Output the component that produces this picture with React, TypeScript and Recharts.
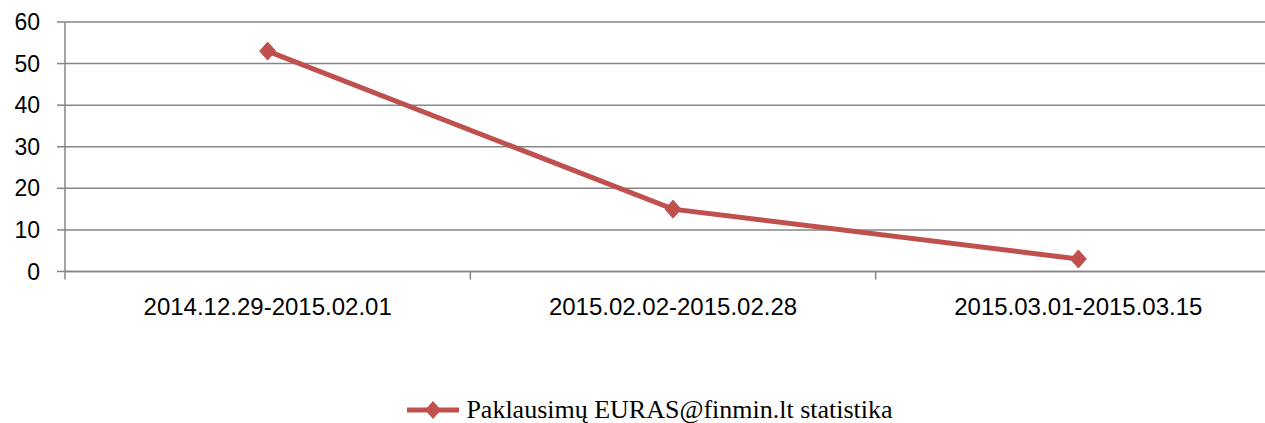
import React from "react";
import { LineChart, Line, XAxis, YAxis, CartesianGrid, Legend } from "recharts";

const periods = ["2014.12.29-2015.02.01", "2015.02.02-2015.02.28", "2015.03.01-2015.03.15"];
const queries = [53, 15, 3];
const yTicks = [0, 10, 20, 30, 40, 50, 60];
const seriesName = "Paklausimų EURAS@finmin.lt statistika";

const CHART_W = 1290;
const CHART_H = 423;
const MARGIN = { top: 22, right: 9, left: 0, bottom: 0 };
const Y_W = 65;
const RED = "#C0504D";
const GRID = "#868686";
const AXIS_FONT = "'Liberation Sans', Arial, sans-serif";

const data = periods.map((p, i) => ({ period: p, value: queries[i] }));
const bandW = (CHART_W - MARGIN.left - MARGIN.right - Y_W) / periods.length;

function CategoryTick(props: any) {
  const { x, y, payload, index } = props;
  const left = x - bandW / 2;
  return (
    <g>
      <line x1={left} x2={left} y1={y - 26} y2={y - 18} stroke={GRID} strokeWidth={1.5} />
      {index === periods.length - 1 && (
        <line x1={x + bandW / 2} x2={x + bandW / 2} y1={y - 26} y2={y - 18} stroke={GRID} strokeWidth={1.5} />
      )}
      <text x={x} y={y} dy="0.71em" textAnchor="middle" fill="#000" fontSize={24} fontFamily={AXIS_FONT}>
        {payload.value}
      </text>
    </g>
  );
}

function Diamond(props: any) {
  const { cx, cy } = props;
  if (cx == null || cy == null) return null;
  return <polygon points={`${cx},${cy - 9} ${cx + 8},${cy} ${cx},${cy + 9} ${cx - 8},${cy}`} fill={RED} stroke={RED} />;
}

function LegendBox() {
  return (
    <div style={{ display: "flex", justifyContent: "center", alignItems: "center", height: 26, paddingLeft: 19 }}>
      <svg width={52} height={20} style={{ marginRight: 7 }}>
        <line x1={0} x2={52} y1={10} y2={10} stroke={RED} strokeWidth={5} strokeLinecap="round" />
        <polygon points="26,1 34,10 26,19 18,10" fill={RED} />
      </svg>
      <span style={{ fontFamily: "'Liberation Serif', 'Times New Roman', serif", fontSize: 26, color: "#000", lineHeight: "26px" }}>
        {seriesName}
      </span>
    </div>
  );
}

export default function App() {
  return (
    <div style={{ position: "absolute", left: 0, top: 0, width: 1265, height: CHART_H, overflow: "hidden", background: "#fff" }}>
      <LineChart width={CHART_W} height={CHART_H} data={data} margin={MARGIN}>
        <CartesianGrid vertical={false} stroke={GRID} strokeWidth={1.5} />
        <XAxis
          dataKey="period"
          height={125.5}
          padding={{ left: bandW / 2, right: bandW / 2 }}
          axisLine={{ stroke: GRID, strokeWidth: 1.5 }}
          tickLine={false}
          tickSize={8}
          tickMargin={18}
          tick={<CategoryTick />}
          interval={0}
        />
        <YAxis
          width={Y_W}
          domain={[0, 60]}
          ticks={yTicks}
          interval={0}
          axisLine={{ stroke: GRID, strokeWidth: 1.5 }}
          tickLine={{ stroke: GRID, strokeWidth: 1.5 }}
          tickSize={8}
          tickMargin={17}
          tick={{ fill: "#000", fontSize: 23, fontFamily: AXIS_FONT }}
        />
        <Legend verticalAlign="bottom" align="center" content={<LegendBox />} />
        <Line
          type="linear"
          dataKey="value"
          name={seriesName}
          stroke={RED}
          strokeWidth={5}
          dot={<Diamond />}
          activeDot={false}
          isAnimationActive={false}
        />
      </LineChart>
    </div>
  );
}
